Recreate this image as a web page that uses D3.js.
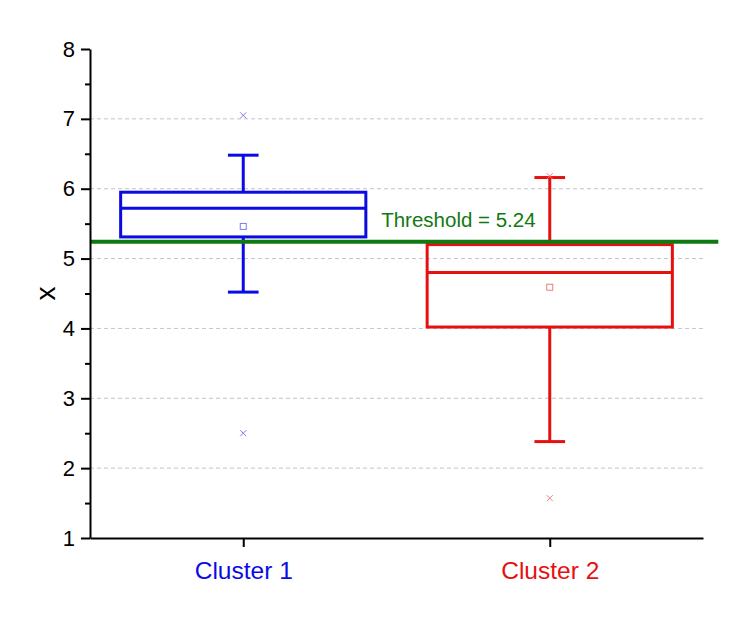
<!DOCTYPE html>
<html>
<head>
<meta charset="utf-8">
<script src="https://cdn.jsdelivr.net/npm/d3@7/dist/d3.min.js"></script>
<style>
  html, body { margin: 0; padding: 0; background: #fff; }
  svg { display: block; font-family: "Liberation Sans", Arial, sans-serif; }
</style>
</head>
<body>
<svg id="chart" width="753" height="622"></svg>
<script>
// Data
var categories = ["Cluster 1", "Cluster 2"];
var colors = ["#0a0ae6", "#e61010"];
var markerColors = ["#7b7bf0", "#f07b7b"];
var q1 = [5.31, 4.02];
var median = [5.72, 4.80];
var q3 = [5.95, 5.20];
var mean = [5.46, 4.59];
var whiskerLow = [4.52, 2.38];
var whiskerHigh = [6.48, 6.16];
var minMarks = [2.50, 1.57];
var maxMarks = [7.05, 6.18];
var threshold = 5.24;
var yTicks = [1, 2, 3, 4, 5, 6, 7, 8];
var yMinorTicks = [1.5, 2.5, 3.5, 4.5, 5.5, 6.5, 7.5];
var gridValues = [2, 3, 4, 5, 6, 7];

var svg = d3.select("#chart");
var margin = { left: 90, right: 50, top: 49, bottom: 84 };
var width = 753, height = 622;

var x = d3.scaleLinear().domain([0.5, 2.5]).range([margin.left, width - margin.right]);
var y = d3.scaleLinear().domain([1, 8]).range([height - margin.bottom, margin.top]);

var boxHalf = 0.4, capHalf = 0.05;

// Grid
svg.append("g").selectAll("line")
    .data(gridValues)
    .enter().append("line")
    .attr("x1", x(0.5)).attr("x2", x(2.5))
    .attr("y1", function (d) { return y(d); })
    .attr("y2", function (d) { return y(d); })
    .attr("stroke", "#c4c4c4")
    .attr("stroke-width", 1)
    .attr("stroke-dasharray", "4,3");

// Boxes
var boxes = svg.append("g").selectAll("g")
    .data(categories)
    .enter().append("g");

boxes.each(function (c, i) {
    var g = d3.select(this);
    var cx = i + 1;
    var col = colors[i];
    // whiskers
    g.append("line")
        .attr("x1", x(cx)).attr("x2", x(cx))
        .attr("y1", y(q3[i])).attr("y2", y(whiskerHigh[i]))
        .attr("stroke", col).attr("stroke-width", 3);
    g.append("line")
        .attr("x1", x(cx)).attr("x2", x(cx))
        .attr("y1", y(q1[i])).attr("y2", y(whiskerLow[i]))
        .attr("stroke", col).attr("stroke-width", 3);
    [whiskerHigh[i], whiskerLow[i]].forEach(function (v) {
        g.append("line")
            .attr("x1", x(cx - capHalf)).attr("x2", x(cx + capHalf))
            .attr("y1", y(v)).attr("y2", y(v))
            .attr("stroke", col).attr("stroke-width", 3);
    });
    // box
    g.append("rect")
        .attr("x", x(cx - boxHalf))
        .attr("y", y(q3[i]))
        .attr("width", x(cx + boxHalf) - x(cx - boxHalf))
        .attr("height", y(q1[i]) - y(q3[i]))
        .attr("fill", "none")
        .attr("stroke", col).attr("stroke-width", 3);
    g.append("line")
        .attr("x1", x(cx - boxHalf)).attr("x2", x(cx + boxHalf))
        .attr("y1", y(median[i])).attr("y2", y(median[i]))
        .attr("stroke", col).attr("stroke-width", 3);
    // mean
    g.append("rect")
        .attr("x", x(cx) - 3).attr("y", y(mean[i]) - 3)
        .attr("width", 6).attr("height", 6)
        .attr("fill", "none")
        .attr("stroke", markerColors[i]).attr("stroke-width", 1);
    // min / max markers
    [minMarks[i], maxMarks[i]].forEach(function (v) {
        var px = x(cx), py = y(v), s = 3;
        g.append("path")
            .attr("d", "M" + (px - s) + "," + (py - s) + "L" + (px + s) + "," + (py + s) +
                       "M" + (px - s) + "," + (py + s) + "L" + (px + s) + "," + (py - s))
            .attr("stroke", markerColors[i]).attr("stroke-width", 1);
    });
});

// Threshold
svg.append("line")
    .attr("x1", x(0.5)).attr("x2", x(2.55))
    .attr("y1", y(threshold)).attr("y2", y(threshold))
    .attr("stroke", "#107a10").attr("stroke-width", 4);
svg.append("text")
    .attr("x", x(1.45))
    .attr("y", y(threshold) - 15)
    .attr("fill", "#107a10")
    .attr("font-size", "20.5px")
    .text("Threshold = " + threshold);

// Axes
var yAxis = svg.append("g")
    .attr("transform", "translate(" + x(0.5) + ",0)")
    .call(d3.axisLeft(y).tickValues(yTicks).tickSize(9).tickSizeOuter(0).tickPadding(6)
        .tickFormat(d3.format("d")));
yAxis.selectAll("text").attr("font-size", "22px").attr("fill", "#000").attr("font-family", "Liberation Sans, Arial, sans-serif");
yAxis.selectAll("line").attr("stroke-width", 2);
yAxis.select(".domain").attr("stroke-width", 2);

svg.append("g")
    .attr("transform", "translate(" + x(0.5) + ",0)")
    .call(d3.axisLeft(y).tickValues(yMinorTicks).tickSize(5).tickSizeOuter(0).tickFormat(""))
    .call(function (g) { g.select(".domain").remove(); })
    .selectAll("line").attr("stroke-width", 2);

var xAxis = svg.append("g")
    .attr("transform", "translate(0," + y(1) + ")")
    .call(d3.axisBottom(x).tickValues([1, 2]).tickSize(9).tickSizeOuter(0).tickPadding(15)
        .tickFormat(function (d) { return categories[d - 1]; }));
xAxis.selectAll("text")
    .attr("font-size", "24.5px")
    .attr("font-family", "Liberation Sans, Arial, sans-serif")
    .attr("fill", function (d) { return colors[d - 1]; });
xAxis.selectAll("line").attr("stroke-width", 2);
xAxis.select(".domain").attr("stroke-width", 2);

// Y title
svg.append("text")
    .attr("transform", "translate(" + (x(0.5) - 45) + "," + y(4.5) + ") rotate(-90)")
    .attr("text-anchor", "middle")
    .attr("dy", "0.35em")
    .attr("font-size", "28px")
    .text("x");
</script>
</body>
</html>
